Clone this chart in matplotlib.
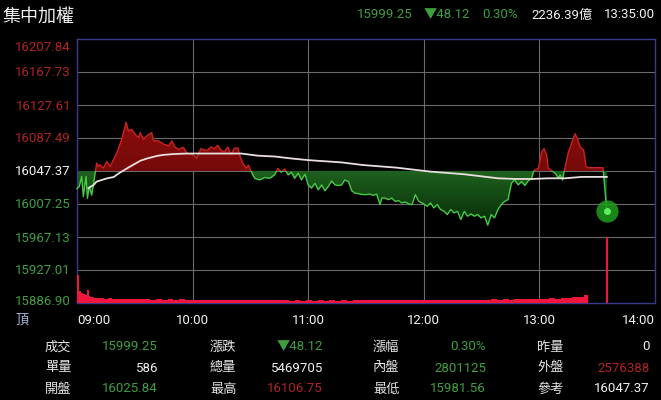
import numpy as np
import matplotlib.pyplot as plt
from matplotlib.patches import Rectangle
from matplotlib.path import Path

plt.rcParams['font.family'] = ['Roboto', 'Noto Sans CJK TC', 'DejaVu Sans']

# --- data (minutes after 09:00) ---
ref = 16047.37
ytick_vals = [16207.84, 16167.73, 16127.61, 16087.49, 16047.37,
              16007.25, 15967.13, 15927.01, 15886.90]
xtick_labels = ['09:00', '10:00', '11:00', '12:00', '13:00', '14:00']

price_t = [0, 1.2, 2.4, 3.3, 4.7, 5.4, 6.4, 7.6, 8.8, 10.2, 11.0, 11.8, 13.7, 15.4,
           17.2, 18.9, 20.6, 23.2, 25.5, 26.7, 28.4, 30.2, 31.9, 32.8, 34.5, 36.2,
           38.8, 39.7, 42.3, 44.9, 47.5, 49.2, 51.0, 52.7, 55.3, 57.0, 60.3, 62.1,
           64.3, 67.3, 69.6, 71.3, 73.0, 74.8, 76.5, 78.3, 80.0, 81.7, 83.5, 84.7,
           86.1, 87.8, 89.0, 90.4, 92.2, 94.8, 97.4, 100.0, 102.6, 104.3, 106.0,
           107.8, 109.6, 111.3, 113.0, 114.8, 116.5, 118.3, 120.0, 121.7, 123.5,
           125.2, 127.0, 128.7, 130.4, 132.2, 133.9, 135.6, 137.4, 139.0, 140.9,
           142.6, 144.3, 147.0, 149.6, 152.0, 153.8, 155.5, 157.3, 158.2, 159.9,
           161.6, 163.4, 165.1, 166.9, 168.6, 170.4, 172.1, 173.9, 175.6, 177.4,
           180.0, 181.7, 183.5, 185.2, 187.0, 188.7, 190.5, 192.2, 194.0, 195.7,
           197.5, 199.2, 201.0, 202.7, 204.5, 206.2, 208.0, 209.7, 211.5, 213.2,
           215.0, 216.7, 218.5, 220.2, 222.0, 223.7, 225.5, 227.2, 229.0, 230.7,
           232.5, 234.2, 236.0, 236.9, 237.7, 239.5, 241.2, 242.4, 243.8, 244.6,
           246.5, 248.2, 249.9, 250.8, 252.0, 253.0, 255.1, 256.9, 258.6, 260.0,
           261.2, 263.0, 264.2, 265.7, 273.0, 275.0]
price = [16025.84, 16028.6, 16040.8, 16016.3, 16040.8, 16014.2, 16028.6, 16018.0,
         16034.7, 16057.0, 16053.0, 16055.0, 16051.0, 16059.0, 16053.0, 16061.0,
         16069.0, 16085.8, 16106.75, 16096.0, 16098.0, 16092.0, 16088.0, 16094.0,
         16086.0, 16090.0, 16094.0, 16084.0, 16084.0, 16080.0, 16078.0, 16084.0,
         16076.0, 16074.0, 16076.0, 16069.0, 16067.0, 16063.0, 16074.6, 16072.0,
         16076.6, 16074.6, 16078.6, 16072.6, 16070.6, 16076.6, 16067.4, 16075.0,
         16075.4, 16064.6, 16056.6, 16050.6, 16054.6, 16046.6, 16038.5, 16036.5,
         16039.4, 16038.5, 16042.6, 16050.6, 16045.8, 16049.8, 16042.6, 16045.8,
         16038.5, 16044.6, 16036.5, 16043.4, 16030.5, 16026.5, 16032.5, 16024.5,
         16030.5, 16023.3, 16028.5, 16035.3, 16030.5, 16029.7, 16030.5, 16036.5,
         16034.5, 16023.3, 16020.5, 16019.3, 16018.5, 16019.3, 16017.7, 16019.3,
         16006.5, 16014.5, 16014.5, 16012.5, 16014.5, 16010.5, 16011.3, 16008.5,
         16009.7, 16007.3, 16006.5, 16018.5, 16010.5, 16007.3, 16004.5, 16008.5,
         16002.5, 16006.5, 16000.5, 15998.4, 15994.4, 16000.5, 15996.4, 15998.4,
         15988.4, 15998.4, 15992.4, 15995.2, 15992.4, 15994.4, 15990.4, 15992.4,
         15981.56, 15994.4, 15990.4, 16000.5, 16006.5, 16010.5, 16012.5, 16032.5,
         16036.5, 16030.5, 16034.5, 16029.7, 16035.3, 16038.5, 16046.6, 16048.6,
         16050.6, 16070.6, 16074.6, 16066.6, 16050.6, 16047.4, 16044.6, 16038.5,
         16042.6, 16036.5, 16048.6, 16070.6, 16082.6, 16092.7, 16084.6, 16076.6,
         16072.6, 16052.6, 16051.4, 16051.4, 15999.25]

avg_t = [5.9, 8.7, 10.2, 15.7, 19.0, 22.0, 27.0, 33.0, 36.4, 41.7, 45.0, 50.4, 57.0,
         67.8, 85.2, 93.9, 102.6, 111.3, 120.0, 137.4, 148.5, 166.0, 183.5, 201.0,
         218.5, 227.2, 236.0, 244.6, 253.3, 262.0, 275.0]
avg = [16026.5, 16030.5, 16034.5, 16038.5, 16040.0, 16045.0, 16052.0, 16060.0,
       16062.6, 16065.8, 16067.0, 16068.0, 16068.6, 16068.6, 16068.6, 16066.0,
       16065.0, 16062.6, 16060.6, 16057.8, 16054.6, 16051.4, 16046.6, 16043.4,
       16038.5, 16037.7, 16037.7, 16038.5, 16038.5, 16040.2, 16040.2]

# volume per interval (thousand lots)
vol_t = [0, 1, 2, 3, 4, 5, 6, 7, 8, 9, 10, 12, 14, 16, 18, 20, 23, 26, 29, 32, 35,
         38, 41, 44, 47, 50, 53, 56, 59, 62, 65, 68, 71, 74, 77, 80, 83, 86, 89, 92,
         95, 98, 101, 104, 107, 110, 113, 116, 119, 122, 125, 128, 131, 134, 137,
         140, 143, 146, 149, 152, 155, 158, 161, 164, 167, 170, 173, 176, 179, 182,
         185, 188, 191, 194, 197, 200, 203, 206, 209, 212, 215, 218, 221, 224, 227,
         230, 233, 236, 239, 242, 245, 248, 251, 254, 257, 260, 263, 265]
vol = [56, 24, 20, 18, 16, 26, 14, 12, 12, 11, 10, 10, 9, 10, 9, 8, 9, 8, 9, 8, 8,
       7, 8, 7, 8, 7, 8, 7, 7, 6, 7, 6, 7, 6, 7, 6, 7, 6, 7, 6, 7, 6, 7, 6, 6, 5,
       6, 5, 6, 5, 6, 5, 6, 5, 6, 5, 6, 6, 7, 6, 7, 6, 6, 7, 6, 7, 6, 7, 6, 7, 6,
       7, 6, 7, 6, 7, 7, 6, 7, 7, 8, 7, 8, 7, 8, 8, 9, 8, 9, 9, 10, 9, 10, 11, 12,
       13, 16, 0]
close_t = 275
close_vol = 132

header = [('15999.25', 'g'), ('▼48.12', 'g'), ('0.30%', 'g'),
          ('2236.39億', 'w'), ('13:35:00', 'w')]
table = [[('成交', '15999.25', 'g'), ('漲跌', '▼48.12', 'g'), ('漲幅', '0.30%', 'g'), ('昨量', '0', 'w')],
         [('單量', '586', 'w'), ('總量', '5469705', 'w'), ('內盤', '2801125', 'g'), ('外盤', '2576388', 'r')],
         [('開盤', '16025.84', 'g'), ('最高', '16106.75', 'r'), ('最低', '15981.56', 'g'), ('參考', '16047.37', 'w')]]

colors = {'g': '#3f9f3f', 'r': '#b02424', 'w': '#f2f2f2'}

W, H = 661, 400
fig = plt.figure(figsize=(W / 100, H / 100), dpi=100, facecolor='black')
ax = fig.add_axes([77 / W, 97 / H, 578 / W, 264 / H], facecolor='black')
ymin, ymax = ytick_vals[-1], ytick_vals[0]
ax.set_xlim(0, 300)
ax.set_ylim(ymin, ymax)
ax.set_xticks([])
ax.set_yticks([])
for s in ax.spines.values():
    s.set_color('#3a3a8a')
    s.set_linewidth(1)

for v in ytick_vals[1:-1]:
    ax.axhline(v, color='#6a6a6a', lw=0.8, zorder=1)
for m in [60, 120, 180, 240]:
    ax.axvline(m, color='#6a6a6a', lw=0.8, zorder=1)

t = np.array(price_t)
p = np.array(price)


def gradient_fill(mask, top_col, bot_col, y0, y1):
    poly = ax.fill_between(t, p, ref, where=mask, interpolate=True, color='none', lw=0)
    paths = poly.get_paths()
    if not paths:
        return
    clip = Path.make_compound_path(*paths)
    grad = np.linspace(0, 1, 256).reshape(-1, 1)
    c0 = np.array(plt.matplotlib.colors.to_rgb(top_col))
    c1 = np.array(plt.matplotlib.colors.to_rgb(bot_col))
    img = c0 * (1 - grad[..., None]) + c1 * grad[..., None]
    im = ax.imshow(img, extent=[0, 300, y0, y1], origin='upper', aspect='auto', zorder=2)
    im.set_clip_path(clip, ax.transData)


gradient_fill(p >= ref, '#8c0d0d', '#3c0303', ymin, 16110)
gradient_fill(p <= ref, '#1f621f', '#072a07', 15980, ref)
ax.set_xlim(0, 300)
ax.set_ylim(ymin, ymax)

red_line, = ax.plot(t, p, color='#cc2222', lw=1.0, zorder=4)
red_line.set_clip_path(Rectangle((-10, ref), 320, 500, transform=ax.transData))
green_line, = ax.plot(t, p, color='#45cc45', lw=1.0, zorder=4)
green_line.set_clip_path(Rectangle((-10, ref - 500), 320, 500, transform=ax.transData))

ax.plot(avg_t, avg, color='#eadede', lw=1.3, zorder=5)

ax.plot(price_t[-1], price[-1], 'o', ms=16, color='#1f9f1f', alpha=0.85, mec='none', zorder=6)
ax.plot(price_t[-1], price[-1], 'o', ms=5, color='#5cf05c', mec='none', zorder=7)

# volume on hidden secondary scale
vax = ax.twinx()
vax.set_ylim(0, 528)
vax.set_yticks([])
vax.axis('off')
vax.fill_between(vol_t, vol, 0, step='post', color='#f0153c', lw=0)
vax.bar([close_t], [close_vol], width=1.0, color='#f0153c', lw=0)


def px(x, y):
    return x / W, 1 - y / H


fs = 9.5
fig.text(*px(2, 17), '集中加權', color='#f2f2f2', fontsize=13, ha='left', va='center')
ends = [413, 470, 518, 593, 655]
for (txt, c), x in zip(header, ends):
    fig.text(*px(x, 15), txt, color=colors[c], fontsize=fs, ha='right', va='center')

# y labels
for i, v in enumerate(ytick_vals):
    ypix = 39 + i * 33
    va = 'center'
    if i == 0:
        ypix, va = 40, 'top'
    elif i == len(ytick_vals) - 1:
        ypix, va = 307, 'bottom'
    if v > ref:
        c = '#b02424'
    elif v < ref:
        c = '#3f9f3f'
    else:
        c = '#f2f2f2'
    fig.text(*px(71, ypix + 1), f'{v:.2f}', color=c, fontsize=fs, ha='right', va=va)

# x labels
fig.text(*px(22, 320), '頂', color='#a9b7d6', fontsize=fs, ha='center', va='center')
for i, lab in enumerate(xtick_labels):
    x = 77 + i * 115.6
    ha = 'center'
    if i == 0:
        ha = 'left'
    elif i == len(xtick_labels) - 1:
        ha = 'right'
    fig.text(*px(x, 320), lab, color='#f2f2f2', fontsize=fs, ha=ha, va='center')

label_x = [45, 210, 373, 537]
value_x = [158, 323, 486, 650]
row_y = [347, 368, 389]
for r, row in enumerate(table):
    for k, (lab, val, c) in enumerate(row):
        fig.text(*px(label_x[k], row_y[r]), lab, color='#e6e6e6', fontsize=fs, ha='left', va='center')
        fig.text(*px(value_x[k], row_y[r]), val, color=colors[c], fontsize=fs, ha='right', va='center')

fig.savefig('out.png', dpi=100, facecolor='black')
